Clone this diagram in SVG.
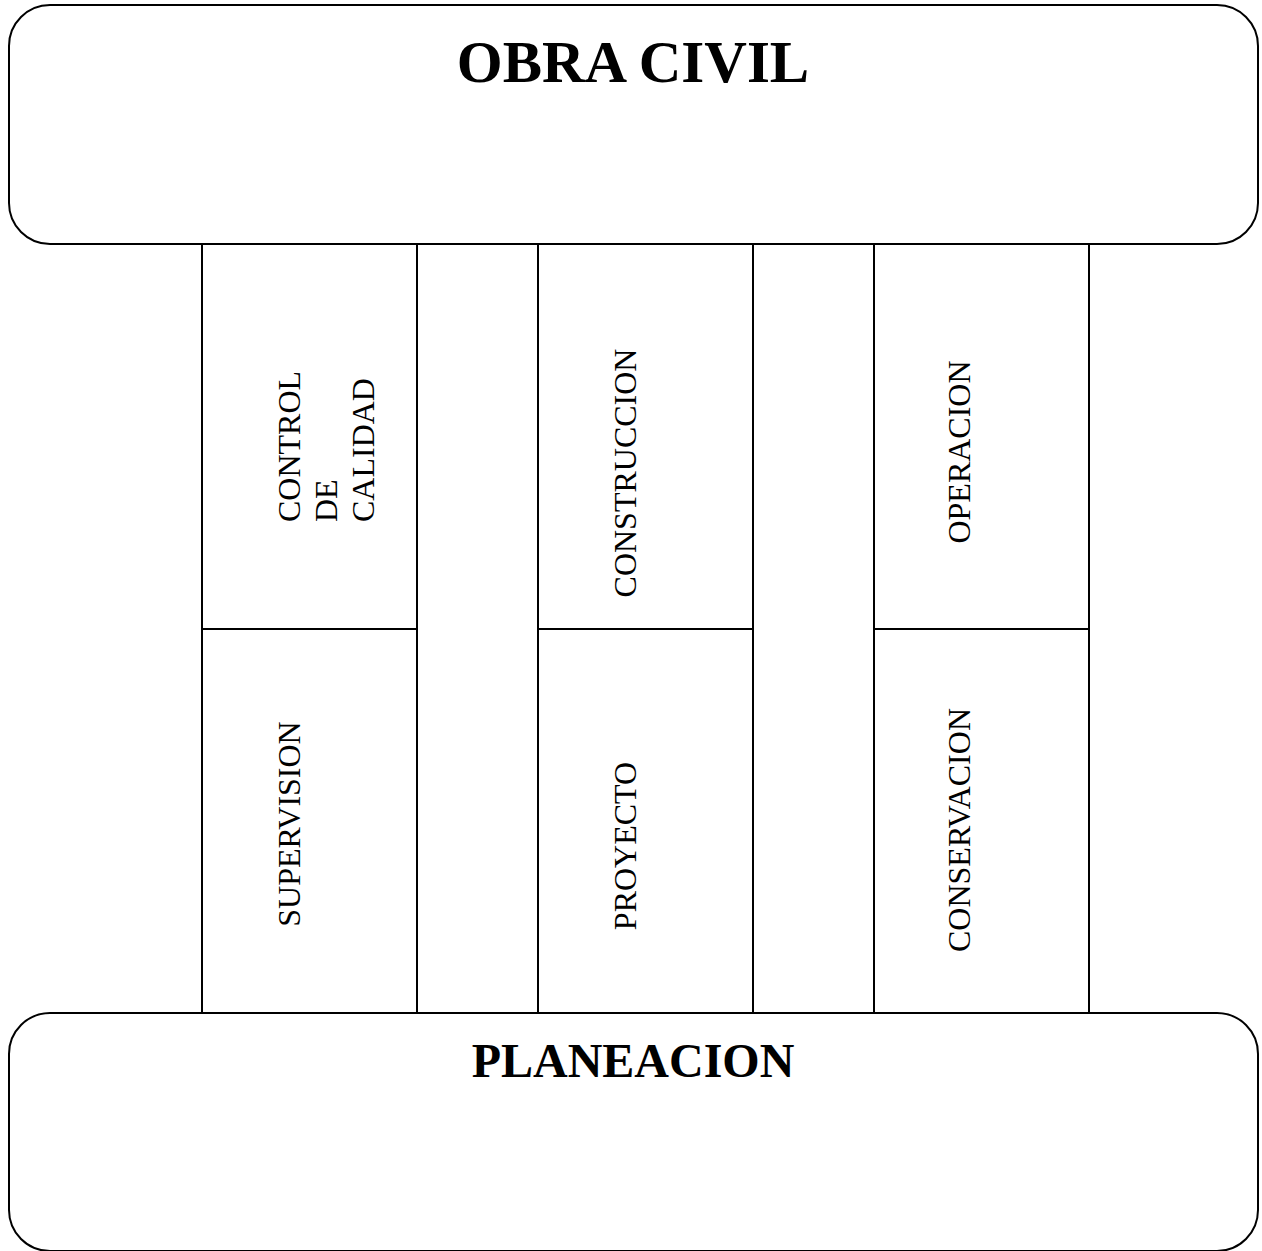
<svg xmlns="http://www.w3.org/2000/svg" width="1262" height="1251" viewBox="0 0 1262 1251">
<style>
.box{fill:#fff;stroke:#000;stroke-width:2}
.title{font-family:"Liberation Serif","Times New Roman",serif;font-weight:bold;text-anchor:middle;fill:#000}
.lbl{font-family:"Liberation Serif","Times New Roman",serif;font-size:32px;fill:#000}
.mid{text-anchor:middle}
</style>
<rect width="1262" height="1251" fill="#fff"/>
<g id="obra-civil">
<rect class="box" x="9" y="5" width="1249" height="239" rx="41" ry="41"/>
<text class="title" x="633" y="82" font-size="59">OBRA CIVIL</text>
</g>
<g id="gap1"><rect class="box" x="417" y="244" width="121" height="769"/></g>
<g id="gap2"><rect class="box" x="753" y="244" width="121" height="769"/></g>
<g id="control-de-calidad">
<rect class="box" x="202" y="244" width="215" height="385"/>
<text class="lbl" transform="translate(300,522) rotate(-90)">CONTROL</text>
<text class="lbl" transform="translate(337,522) rotate(-90)">DE</text>
<text class="lbl" transform="translate(374,522) rotate(-90)">CALIDAD</text>
</g>
<g id="supervision">
<rect class="box" x="202" y="629" width="215" height="384"/>
<text class="lbl mid" transform="translate(300,824) rotate(-90)">SUPERVISION</text>
</g>
<g id="construccion">
<rect class="box" x="538" y="244" width="215" height="385"/>
<text class="lbl mid" transform="translate(636,473) rotate(-90)">CONSTRUCCION</text>
</g>
<g id="proyecto">
<rect class="box" x="538" y="629" width="215" height="384"/>
<text class="lbl mid" transform="translate(636,846) rotate(-90)">PROYECTO</text>
</g>
<g id="operacion">
<rect class="box" x="874" y="244" width="215" height="385"/>
<text class="lbl mid" transform="translate(970,452) rotate(-90)">OPERACION</text>
</g>
<g id="conservacion">
<rect class="box" x="874" y="629" width="215" height="384"/>
<text class="lbl mid" transform="translate(970,830) rotate(-90)">CONSERVACION</text>
</g>
<g id="planeacion">
<rect class="box" x="9" y="1013" width="1249" height="238" rx="41" ry="41"/>
<text class="title" x="633" y="1077" font-size="48">PLANEACION</text>
</g>
<g id="connectors"></g>
</svg>
